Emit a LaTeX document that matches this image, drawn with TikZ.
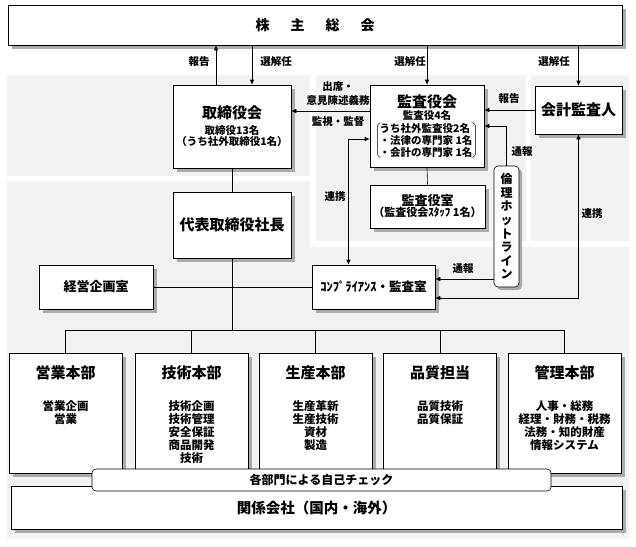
\documentclass[tikz,border=0pt]{standalone}
\usepackage{fontspec}
\setmainfont{Noto Sans CJK JP}
\usetikzlibrary{arrows.meta, shadows, positioning}
\definecolor{panelgray}{HTML}{F2F2F2}
\definecolor{shadowgray}{HTML}{ABABAB}
\newcommand{\sz}[2]{\fontsize{#1}{#2}\selectfont\bfseries}

\tikzset{
  panel/.style={fill=panelgray},
  box/.style={draw, fill=white, inner sep=0pt,
    drop shadow={shadow xshift=3.5pt, shadow yshift=-3.5pt, fill=shadowgray, opacity=1}},
  rbox/.style={draw, fill=white, rounded corners=4pt, inner sep=0pt, align=center},
  ttl/.style={font=\sz{15}{17}, inner sep=0pt, align=center},
  note/.style={font=\sz{10.5}{12}, inner sep=1pt, align=center},
  item/.style={font=\sz{11.5}{13}, inner sep=0pt, align=center, anchor=north},
  dept/.style={box, minimum width=113pt, minimum height=120pt},
  arr/.style={-{Latex[length=5pt,width=4.5pt]}},
  arrs/.style={{Latex[length=5pt,width=4.5pt]}-{Latex[length=5pt,width=4.5pt]}},
}

\begin{document}
\begin{tikzpicture}[x=1pt, y=-1pt, line width=0.6pt]
  \useasboundingbox (0,0) rectangle (636,546);

  % grey panels
  \fill[panel] (7,75) rectangle (310,176);
  \fill[panel] (316,75) rectangle (526,241);
  \fill[panel] (531,75) rectangle (629,241);
  \fill[panel] (7,181) rectangle (310,539);
  \fill[panel] (7,247) rectangle (629,539);

  \node[box, minimum width=614pt, minimum height=40pt] (kabu) at (315,25)
    {\sz{14}{16}株\hspace{21pt}主\hspace{21pt}総\hspace{21pt}会};

  % board and president
  \node[box, minimum width=118pt, minimum height=83pt] (torishimari) at (232,126.5) {};
  \node[ttl] (torishimari-t) at (232,113) {取締役会};
  \node[note, inner sep=0pt, font=\sz{10.5}{11.5}] (torishimari-s) at (232,136) {取締役13名\\（うち社外取締役1名）};
  \node[box, ttl, minimum width=118pt, minimum height=66pt] (daihyo) at (232,225) {代表取締役社長};

  % auditors
  \node[box, minimum width=114pt, minimum height=82pt] (kansayakukai) at (427,126) {};
  \node[ttl] (kansayakukai-t) at (427,102) {監査役会};
  \node[note, inner sep=0pt] (kansayakukai-s) at (427,115) {監査役4名};
  \node[note, align=left, inner sep=0pt, font=\sz{10.5}{12}] (kansayakukai-l) at (426,140)
    {うち社外監査役2名\\・法律の専門家 1名\\・会計の専門家 1名};
  \draw[rounded corners=3pt, line width=0.5pt] ([xshift=1pt]kansayakukai-l.north west) -- ([xshift=-2pt,yshift=-1pt]kansayakukai-l.north west)
    -- ([xshift=-2pt,yshift=1pt]kansayakukai-l.south west) -- ([xshift=1pt]kansayakukai-l.south west);
  \draw[rounded corners=3pt, line width=0.5pt] ([xshift=-1pt]kansayakukai-l.north east) -- ([xshift=3pt,yshift=-1pt]kansayakukai-l.north east)
    -- ([xshift=3pt,yshift=1pt]kansayakukai-l.south east) -- ([xshift=-1pt]kansayakukai-l.south east);
  \node[box, minimum width=87pt, minimum height=48pt, ttl] (kaikei) at (578.5,110) {会計監査人};
  \node[box, minimum width=115pt, minimum height=43pt, align=center] (kansayakushitsu) at (427.5,206.5)
    {{\sz{13}{15}監査役室}\\[-1pt]{\sz{11}{13}（監査役会ｽﾀｯﾌ 1名）}};
  \node[rbox, minimum width=25pt, minimum height=121pt, font=\sz{12}{13.6},
    drop shadow={shadow xshift=3pt, shadow yshift=-3pt, fill=shadowgray, opacity=1}] (hotline) at (506.5,226.5)
    {倫\\理\\ホ\\ッ\\ト\\ラ\\イ\\ン};

  % staff offices
  \node[box, minimum width=114pt, minimum height=44pt, font=\sz{13}{15}] (keiei) at (96,287) {経営企画室};
  \node[box, minimum width=123pt, minimum height=44pt, font=\sz{12.5}{14}] (comp) at (373.5,287) {ｺﾝﾌﾟﾗｲｱﾝｽ・監査室};

  % departments
  \node[dept] (eigyo) at (65.5,413) {};
  \node[dept] (gijutsu) at (191.5,413) {};
  \node[dept] (seisan) at (315.5,413) {};
  \node[dept] (hinshitsu) at (440,413) {};
  \node[dept] (kanri) at (564.5,413) {};
  \node[ttl] (eigyo-t) at (65.5,373) {営業本部};
  \node[ttl] (gijutsu-t) at (191.5,373) {技術本部};
  \node[ttl] (seisan-t) at (315.5,373) {生産本部};
  \node[ttl] (hinshitsu-t) at (440,373) {品質担当};
  \node[ttl] (kanri-t) at (564.5,373) {管理本部};
  \node[item] (eigyo-i) at (65.5,400) {営業企画\\営業};
  \node[item] (gijutsu-i) at (191.5,400) {技術企画\\技術管理\\安全保証\\商品開発\\技術};
  \node[item] (seisan-i) at (315.5,400) {生産革新\\生産技術\\資材\\製造};
  \node[item] (hinshitsu-i) at (440,400) {品質技術\\品質保証};
  \node[item] (kanri-i) at (564.5,400) {人事・総務\\経理・財務・税務\\法務・知的財産\\情報システム};

  \node[box, minimum width=611pt, minimum height=43pt, font=\sz{14.5}{16}] (kankei) at (316.5,508) {関係会社（国内・海外）};
  \node[rbox, minimum width=459pt, minimum height=22pt, font=\sz{12}{14}] (check) at (321.5,480) {各部門による自己チェック};

  % labels
  \node[note] (l-hokoku1) at (199,62) {報告};
  \node[note] (l-sennin1) at (276,62) {選解任};
  \node[note] (l-sennin2) at (410,62) {選解任};
  \node[note] (l-sennin3) at (554,62) {選解任};
  \node[note, font=\sz{10.5}{14}] (l-shusseki) at (338,94) {出席・\\意見陳述義務};
  \node[note] (l-kanshi) at (338,122) {監視・監督};
  \node[note] (l-hokoku2) at (509,99) {報告};
  \node[note] (l-tsuho1) at (522,152) {通報};
  \node[note] (l-renkei1) at (335,197) {連携};
  \node[note] (l-tsuho2) at (463,269) {通報};
  \node[note] (l-renkei2) at (592,214) {連携};

  % connectors
  \draw[arr] ([xshift=-16pt]torishimari.north) -- ([xshift=-16pt]torishimari.north |- kabu.south);
  \draw[arr] ([xshift=20pt]torishimari.north |- kabu.south) -- ([xshift=20pt]torishimari.north);
  \draw[arr] (kabu.south -| kansayakukai.north) -- (kansayakukai.north);
  \draw[arr] (kabu.south -| kaikei.north) -- (kaikei.north);
  \draw[arr] ([yshift=15pt]kansayakukai.west) -- ([yshift=15pt]kansayakukai.west -| torishimari.east);
  \draw[arr] (kaikei.west) -- (kaikei.west -| kansayakukai.east);
  \draw[arr] (hotline.north) |- (kansayakukai.east);
  \draw (kansayakukai.south) -- (kansayakushitsu.north);
  \draw[arrs] ([xshift=-25pt]comp.north) |- ([yshift=-13pt]kansayakukai.west);
  \draw[arr] ([yshift=8pt]comp.east -| hotline.west) -- ([yshift=8pt]comp.east);
  \draw[arrs] (kaikei.south) |- ([yshift=-11pt]comp.east);
  \draw (torishimari.south) -- (daihyo.north);
  \draw (keiei.east) -- (comp.west);
  \coordinate (bus) at (232,330);
  \draw (daihyo.south) -- (bus);
  \draw (eigyo.north |- bus) -- (kanri.north |- bus);
  \foreach \d in {eigyo,gijutsu,seisan,hinshitsu,kanri}
    \draw (\d.north |- bus) -- (\d.north);
\end{tikzpicture}
\end{document}
